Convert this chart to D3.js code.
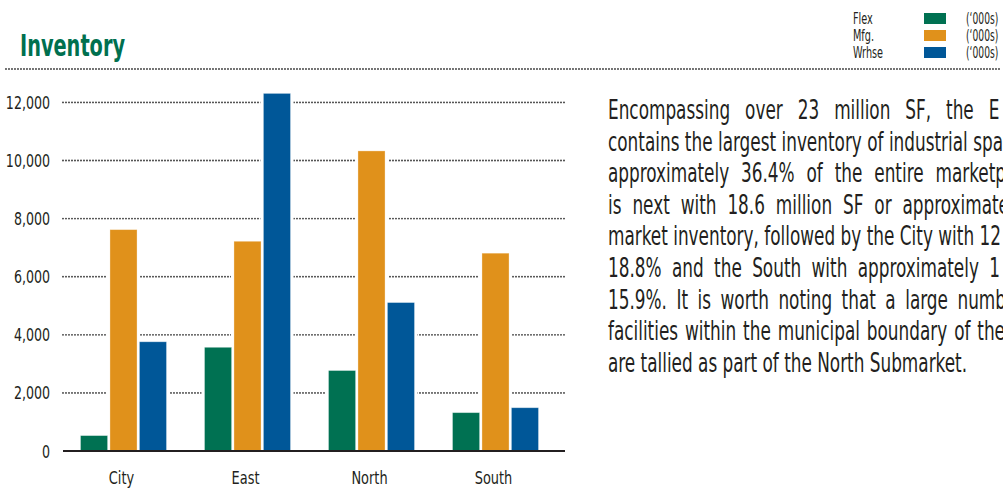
<!DOCTYPE html>
<html>
<head>
<meta charset="utf-8">
<script src="https://cdn.jsdelivr.net/npm/d3@7"></script>
<style>
  body { margin: 0; background: #fff; }
  svg { display: block; }
  .cond { font-family: "Liberation Sans Narrow", "DejaVu Sans Condensed", "Open Sans", sans-serif; }
</style>
</head>
<body>
<svg id="chart" width="1003" height="489"></svg>
<script>
// data (thousands of SF)
var regions = ["City", "East", "North", "South"];
var seriesNames = ["Flex", "Mfg.", "Wrhse"];
var flex = [530, 3570, 2770, 1320];
var mfg = [7620, 7220, 10330, 6810];
var wrhse = [3760, 12310, 5110, 1490];
var yTicks = [0, 2000, 4000, 6000, 8000, 10000, 12000];
var colors = ["#007152", "#e0911b", "#005798"];

var textLines = [
  "Encompassing over 23 million SF,  the E",
  "contains the largest inventory of industrial spa",
  "approximately 36.4% of the entire marketp",
  "is next with 18.6 million SF or approximate",
  "market inventory, followed by the City with 12",
  "18.8% and the South with approximately 1",
  "15.9%. It is worth noting that a large numb",
  "facilities within the municipal boundary of the",
  "are tallied as part of the North Submarket."
];
var lineEnds = [1009, 1003, 1006, 1009, 1001, 1000, 1006, 1005, null];

var svg = d3.select("#chart");

var x0 = d3.scaleBand().domain(regions).range([61.5, 557.5]);
var x1 = d3.scaleBand().domain(seriesNames)
  .range([(x0.bandwidth() - 86) / 2, (x0.bandwidth() + 86) / 2])
  .paddingInner(0.08);
var y = d3.scaleLinear().domain([0, 12000]).range([451, 102.4]);

// squeezed text helper (the original face is a narrow condensed one)
function narrow(sel, x, yy, str, size, sxv, anchor) {
  var g = sel.append("g").attr("transform", "translate(" + x + "," + yy + ") scale(" + sxv + ",1)");
  return g.append("text").attr("class", "cond")
    .attr("font-size", size).attr("fill", "#231f20")
    .attr("text-anchor", anchor || "start").text(str);
}

// title + dotted rule
svg.append("text").attr("class", "cond")
  .attr("x", 20).attr("y", 56)
  .attr("font-size", 31).attr("font-weight", "bold")
  .attr("fill", "#00704f")
  .attr("textLength", 105).attr("lengthAdjust", "spacingAndGlyphs")
  .text("Inventory");

svg.append("line")
  .attr("x1", 6).attr("x2", 1001).attr("y1", 69).attr("y2", 69)
  .attr("stroke", "#333").attr("stroke-width", 1.8)
  .attr("stroke-linecap", "round").attr("stroke-dasharray", "0,3");

// legend
var leg = svg.append("g");
seriesNames.forEach(function(s, i) {
  var yy = 13 + i * 17;
  leg.append("rect").attr("x", 924).attr("y", yy).attr("width", 22).attr("height", 11)
    .attr("fill", colors[i]);
  narrow(leg, 853, yy + 11, s, 15, 0.72);
  narrow(leg, 966, yy + 11, "(\u2018000s)", 15, 0.68);
});

// gridlines
svg.append("g").selectAll("line")
  .data(yTicks.filter(function(d) { return d > 0; }))
  .enter().append("line")
  .attr("x1", 63).attr("x2", 565)
  .attr("y1", function(d) { return y(d); }).attr("y2", function(d) { return y(d); })
  .attr("stroke", "#333").attr("stroke-width", 1.8)
  .attr("stroke-linecap", "round").attr("stroke-dasharray", "0,3");

// y labels
var yl = svg.append("g");
yTicks.forEach(function(d) {
  narrow(yl, 50, y(d) + 6.5, d3.format(",")(d), 18, 0.78, "end");
});

// bars
var rows = regions.map(function(r, i) {
  return { region: r, vals: [flex[i], mfg[i], wrhse[i]] };
});
var groups = svg.append("g").selectAll("g")
  .data(rows).enter().append("g")
  .attr("transform", function(d) { return "translate(" + x0(d.region) + ",0)"; });

groups.selectAll("rect.halo")
  .data(function(d) { return d.vals.map(function(v, j) { return { s: seriesNames[j], v: v, j: j }; }); })
  .enter().append("rect").attr("class", "halo")
  .attr("x", function(d) { return x1(d.s) - 3; })
  .attr("y", function(d) { return y(d.v) - 3; })
  .attr("width", x1.bandwidth() + 6)
  .attr("height", function(d) { return y(0) - y(d.v) + 3; })
  .attr("fill", "#fff");

groups.selectAll("rect.bar")
  .data(function(d) { return d.vals.map(function(v, j) { return { s: seriesNames[j], v: v, j: j }; }); })
  .enter().append("rect").attr("class", "bar")
  .attr("x", function(d) { return x1(d.s); })
  .attr("y", function(d) { return y(d.v); })
  .attr("width", x1.bandwidth())
  .attr("height", function(d) { return y(0) - y(d.v); })
  .attr("fill", function(d) { return colors[d.j]; })
  .attr("stroke", "#fff").attr("stroke-opacity", 0.4).attr("stroke-width", 0.8);

// baseline
svg.append("line")
  .attr("x1", 63).attr("x2", 565).attr("y1", y(0)).attr("y2", y(0))
  .attr("stroke", "#231f20").attr("stroke-width", 2.2);

// x labels
var xl = svg.append("g");
regions.forEach(function(d) {
  narrow(xl, x0(d) + x0.bandwidth() / 2 - 2, 484, d, 18, 0.8, "middle");
});

// paragraph, justified by hand
var px = 608;
var para = svg.append("g");
var probe = para.append("text").attr("class", "cond").attr("font-size", 26).text(textLines[1]);
var sx = (lineEnds[1] - px) / probe.node().getComputedTextLength();
probe.remove();

textLines.forEach(function(t, i) {
  var g = para.append("g")
    .attr("transform", "translate(" + px + "," + (119 + i * 31.6) + ") scale(" + sx + ",1)");
  var el = g.append("text").attr("class", "cond")
    .attr("font-size", 26).attr("fill", "#231f20").text(t);
  if (lineEnds[i] == null) return;
  var w = el.node().getComputedTextLength();
  var want = (lineEnds[i] - px) / sx;
  var diff = want - w;
  var spaces = t.split(" ").length - 1;
  if (diff > 0 && spaces > 0) el.attr("word-spacing", diff / spaces);
  else el.attr("letter-spacing", diff / (t.length - 1));
});
</script>
</body>
</html>
